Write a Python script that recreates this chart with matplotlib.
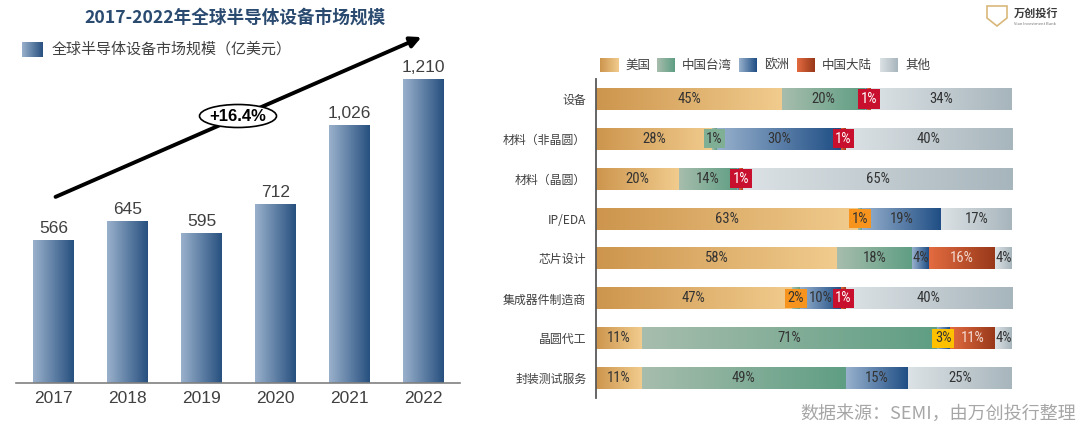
import numpy as np
import matplotlib
matplotlib.use('Agg')
import matplotlib.pyplot as plt
from matplotlib import font_manager
from matplotlib.colors import LinearSegmentedColormap
from matplotlib.patches import FancyArrowPatch, Ellipse, Polygon

plt.rcParams['font.family'] = ['Noto Sans CJK SC', 'DejaVu Sans']

# 左图：全球半导体设备市场规模（亿美元）
years = ['2017', '2018', '2019', '2020', '2021', '2022']
market = [566, 645, 595, 712, 1026, 1210]
cagr_text = '+16.4%'

# 右图：各环节地区份额（%）
segments = ['设备', '材料（非晶圆）', '材料（晶圆）', 'IP/EDA', '芯片设计',
            '集成器件制造商', '晶圆代工', '封装测试服务']
regions = ['美国', '中国台湾', '欧洲', '中国大陆', '其他']
share_us = [45, 28, 20, 63, 58, 47, 11, 11]
share_tw = [20, 1, 14, 1, 18, 2, 71, 49]
share_eu = [0.5, 30, 0.5, 19, 4, 10, 3, 15]
share_cn = [1, 1, 1, 0, 16, 1, 11, 0]
share_other = [34, 40, 65, 17, 4, 40, 4, 25]


def pick_font(names):
    for n in names:
        try:
            font_manager.findfont(font_manager.FontProperties(family=n),
                                  fallback_to_default=False)
            return n
        except ValueError:
            continue
    return 'DejaVu Sans'


narrow = pick_font(['Liberation Sans Narrow', 'Roboto Condensed',
                    'Open Sans Condensed', 'DejaVu Sans'])
pct_size = 10.5 if narrow != 'DejaVu Sans' else 8.5

W, H = 1080, 432
fig = plt.figure(figsize=(10.8, 4.32), dpi=100)

bar_cmap = LinearSegmentedColormap.from_list('bar', ['#9AB1CC', '#27507F'])
region_cmaps = [
    LinearSegmentedColormap.from_list('us', ['#CD954D', '#F1CC8E']),
    LinearSegmentedColormap.from_list('tw', ['#A7BDAD', '#5F9E83']),
    LinearSegmentedColormap.from_list('eu', ['#98B1CD', '#1E4D84']),
    LinearSegmentedColormap.from_list('cn', ['#E36B40', '#973819']),
    LinearSegmentedColormap.from_list('ot', ['#DCE2E5', '#A7B5BC']),
]
grad = np.linspace(0, 1, 256).reshape(1, -1)


def fx(px):
    return px / W


def fy(py):
    return 1 - py / H


# ---------------- 左图 ----------------
ax1 = fig.add_axes([fx(16), fy(383), fx(460 - 16), (383 - 30) / H])
x = np.arange(len(years))
bw = 0.55
for xi, v in zip(x, market):
    ax1.imshow(grad, cmap=bar_cmap, extent=[xi - bw / 2, xi + bw / 2, 0, v],
               aspect='auto', interpolation='bilinear', zorder=2)
    ax1.text(xi, v + 18, f'{v:,}', ha='center', va='bottom', fontsize=12.5,
             color='#404040', family=['Liberation Sans', 'DejaVu Sans'])
ax1.set_xlim(-0.507, 5.49)
ax1.set_ylim(0, 1406)
ax1.set_xticks(x)
ax1.set_xticklabels(years, fontsize=12.5, color='#404040',
                    family=['Liberation Sans', 'DejaVu Sans'])
ax1.tick_params(axis='x', length=0, pad=6)
ax1.set_yticks([])
for s in ['left', 'right', 'top']:
    ax1.spines[s].set_visible(False)
ax1.spines['bottom'].set_color('#808080')
ax1.spines['bottom'].set_linewidth(1.2)
ax1.patch.set_alpha(0)

fig.text(fx(235), fy(18), '2017-2022年全球半导体设备市场规模', ha='center',
         va='center', fontsize=12.7, fontweight='bold', color='#2A4A70')

leg1 = fig.add_axes([fx(22), fy(57), fx(21), 15 / H])
leg1.imshow(grad, cmap=bar_cmap, aspect='auto')
leg1.axis('off')
fig.text(fx(52), fy(49), '全球半导体设备市场规模（亿美元）', ha='left', va='center',
         fontsize=10.8, color='#404040')

arrow = FancyArrowPatch((fx(53), fy(198)), (fx(424), fy(36)),
                        transform=fig.transFigure, arrowstyle='-|>',
                        mutation_scale=16, lw=2.8, color='black')
fig.add_artist(arrow)
ell = Ellipse((fx(238), fy(116)), fx(77), 23 / H, transform=fig.transFigure,
              facecolor='white', edgecolor='black', lw=1.2)
fig.add_artist(ell)
fig.text(fx(238), fy(116), cagr_text, ha='center', va='center', fontsize=12,
         fontweight='bold', color='black',
         family=['Liberation Sans', 'DejaVu Sans'])

# ---------------- 右图 ----------------
ax2 = fig.add_axes([fx(596), fy(398), fx(1012 - 596), (398 - 79) / H])
data = np.array([share_us, share_tw, share_eu, share_cn, share_other], float).T
y = np.arange(len(segments))
bh = 0.55
box_colors = {1: '#F7941D', 2: '#FFC000', 3: '#C8102E'}
box_override = {(1, 1): '#7FAF95'}
for yi, row in zip(y, data):
    norm = row / row.sum() * 100
    left = 0.0
    for k, (v, nv) in enumerate(zip(row, norm)):
        if nv <= 0:
            continue
        ax2.imshow(grad, cmap=region_cmaps[k],
                   extent=[left, left + nv, yi + bh / 2, yi - bh / 2],
                   aspect='auto', interpolation='bilinear', zorder=2)
        if v >= 1:
            label = f'{round(v)}%'
            tcolor = '#F3DCD2' if k == 3 else '#333333'
            bbox = None
            if v <= 3:
                bc = box_override.get((yi, k), box_colors.get(k, '#F7941D'))
                bbox = dict(boxstyle='square,pad=0.18', facecolor=bc,
                            edgecolor='none')
                tcolor = 'white' if k == 3 else '#333333'
            ax2.text(left + nv / 2, yi, label, ha='center', va='center',
                     fontsize=pct_size, color=tcolor, bbox=bbox, zorder=4,
                     family=[narrow, 'DejaVu Sans'])
        left += nv
ax2.set_xlim(0, 100)
ax2.set_ylim(len(segments) - 0.5, -0.5)
ax2.set_yticks(y)
ax2.set_yticklabels(segments, fontsize=8.6, color='#404040')
ax2.tick_params(axis='y', length=0, pad=7)
ax2.set_xticks([])
for s in ['right', 'top', 'bottom']:
    ax2.spines[s].set_visible(False)
ax2.spines['left'].set_color('#595959')
ax2.spines['left'].set_linewidth(1.3)
ax2.spines['left'].set_zorder(5)
ax2.patch.set_alpha(0)

leg_x = [600, 657, 739, 797, 880]
for k, (name, lx) in enumerate(zip(regions, leg_x)):
    la = fig.add_axes([fx(lx), fy(72), fx(18), 14 / H])
    la.imshow(grad, cmap=region_cmaps[k], aspect='auto')
    la.axis('off')
    fig.text(fx(lx + 25), fy(65), name, ha='left', va='center', fontsize=9,
             color='#404040')

fig.text(fx(1076), fy(414), '数据来源：SEMI，由万创投行整理', ha='right',
         va='center', fontsize=13, color='#A6A6A6')

# logo
shield = Polygon([[fx(987), fy(6)], [fx(1007), fy(6)], [fx(1007), fy(18)],
                  [fx(997), fy(26)], [fx(987), fy(18)]], closed=True,
                 transform=fig.transFigure, facecolor='none',
                 edgecolor='#D9B77A', lw=1.2)
fig.add_artist(shield)
fig.text(fx(1014), fy(13), '万创投行', ha='left', va='center', fontsize=8,
         fontweight='bold', color='#3A3A3A')
fig.text(fx(1014), fy(24), 'Vian Investment Bank', ha='left', va='center',
         fontsize=3, color='#777777')

fig.savefig('out.png', dpi=100)
